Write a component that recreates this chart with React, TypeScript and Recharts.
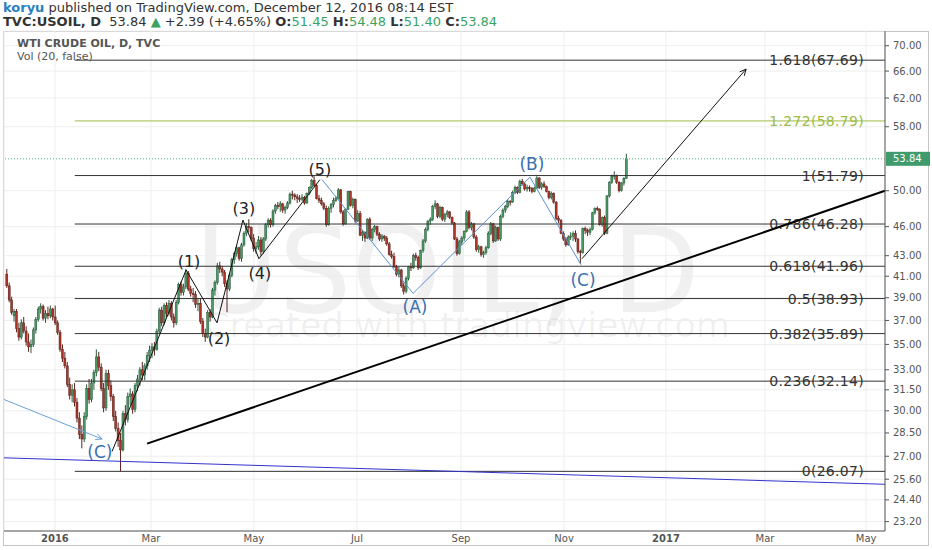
import React from 'react';
import { ComposedChart, Bar, XAxis, YAxis, CartesianGrid, ReferenceLine, ReferenceDot } from 'recharts';

// OHLC per trading day, Dec 2015 .. Dec 12 2016
const candles: [number, number, number, number][] = [
  [41.2, 41.7, 39.9, 40.1], [40.1, 40.4, 38.6, 38.8], [38.8, 39.1, 37.5, 37.7], [37.4, 38.0, 36.9, 37.8],
  [37.8, 38.0, 36.0, 36.3], [36.3, 36.8, 35.3, 35.6], [35.6, 37.1, 35.4, 36.8], [36.8, 37.3, 35.9, 36.1],
  [36.1, 36.5, 34.9, 35.2], [35.2, 35.9, 34.4, 34.8], [34.8, 35.4, 34.3, 35.0], [35.0, 36.4, 34.8, 36.2],
  [36.2, 37.3, 35.9, 37.1], [37.1, 38.2, 36.9, 38.0], [38.0, 38.5, 37.6, 38.2], [38.2, 38.4, 37.0, 37.2],
  [37.2, 37.9, 36.8, 37.6], [37.6, 38.2, 37.1, 37.4], [37.4, 38.3, 37.2, 38.0], [38.0, 38.1, 37.0, 37.3],
  [37.3, 38.3, 36.6, 36.8], [36.8, 37.0, 35.8, 36.0], [36.0, 36.2, 34.4, 34.6], [34.6, 35.0, 33.6, 33.9],
  [33.9, 34.4, 33.1, 33.3], [33.3, 33.6, 31.7, 31.9], [31.9, 32.4, 30.8, 31.1], [31.1, 31.9, 30.6, 31.5],
  [31.5, 32.0, 30.3, 30.6], [30.6, 30.9, 29.2, 29.5], [29.5, 29.9, 28.1, 28.4], [28.4, 29.0, 27.5, 28.1],
  [28.1, 29.9, 27.9, 29.6], [29.6, 31.9, 29.4, 31.6], [31.6, 32.3, 30.5, 30.8], [30.8, 32.3, 30.6, 32.0],
  [32.0, 33.0, 31.5, 32.8], [32.8, 34.6, 32.5, 34.0], [34.0, 34.4, 32.9, 33.2], [33.2, 33.5, 31.4, 31.6],
  [31.6, 32.0, 29.9, 30.2], [30.2, 33.0, 30.0, 32.7], [32.7, 33.0, 31.5, 31.8], [31.8, 32.2, 30.7, 31.0],
  [31.0, 31.2, 29.3, 29.6], [29.6, 30.0, 28.6, 28.8], [28.8, 29.2, 27.6, 28.0], [28.0, 28.5, 26.07, 27.4],
  [27.4, 30.0, 27.3, 29.8], [29.8, 30.4, 29.0, 29.4], [29.4, 31.3, 29.2, 31.0], [31.0, 31.6, 30.4, 31.2],
  [31.2, 31.4, 29.8, 30.1], [30.1, 32.0, 29.9, 31.8], [31.8, 32.6, 31.4, 32.3], [32.3, 33.2, 31.8, 33.0],
  [33.0, 33.6, 32.2, 32.6], [32.6, 33.5, 32.2, 33.3], [33.3, 34.4, 33.0, 34.1], [34.1, 34.9, 33.6, 34.5],
  [34.5, 35.1, 33.9, 34.8], [34.8, 35.2, 34.1, 34.6], [34.6, 36.3, 34.5, 36.1], [36.1, 38.1, 35.9, 37.9],
  [37.9, 38.2, 36.5, 36.8], [36.8, 38.5, 36.6, 38.3], [38.3, 38.6, 37.3, 37.6], [37.6, 38.8, 37.4, 38.5],
  [38.5, 38.7, 37.0, 37.3], [37.3, 37.6, 36.4, 36.8], [36.8, 38.8, 36.6, 38.6], [38.6, 40.4, 38.4, 40.2],
  [40.2, 40.5, 39.2, 39.5], [39.5, 40.3, 39.2, 40.0], [40.0, 41.7, 39.8, 41.3], [41.3, 41.5, 39.6, 39.8],
  [39.8, 40.1, 39.1, 39.4], [39.4, 39.9, 38.6, 39.3], [39.3, 39.6, 38.1, 38.4], [38.4, 38.9, 37.8, 38.5],
  [38.5, 38.9, 36.7, 36.9], [36.9, 37.2, 35.6, 35.9], [35.9, 36.3, 35.2, 35.6], [35.6, 37.9, 35.5, 37.7],
  [37.7, 38.0, 36.9, 37.3], [37.3, 39.9, 37.2, 39.7], [39.7, 40.6, 39.2, 40.4], [40.4, 42.3, 40.2, 42.0],
  [42.0, 42.4, 41.3, 41.7], [41.7, 42.0, 41.0, 41.4], [41.4, 41.6, 40.0, 40.3], [40.3, 40.6, 37.7, 39.8],
  [39.8, 41.3, 39.6, 41.1], [41.1, 42.8, 40.9, 42.6], [42.6, 43.4, 42.2, 43.2], [43.2, 44.0, 42.9, 43.8],
  [43.8, 43.9, 42.5, 42.7], [42.7, 44.3, 42.4, 44.1], [44.1, 45.5, 43.9, 45.3], [45.3, 46.4, 45.0, 46.0],
  [46.0, 46.8, 45.4, 45.9], [45.9, 46.0, 44.5, 44.8], [44.8, 45.2, 43.4, 43.7], [43.7, 44.4, 43.2, 43.9],
  [43.9, 45.0, 43.6, 44.6], [44.6, 44.9, 43.0, 43.4], [43.4, 44.9, 43.2, 44.7], [44.7, 46.4, 44.5, 46.2],
  [46.2, 46.9, 45.9, 46.7], [46.7, 46.9, 45.9, 46.2], [46.2, 47.9, 46.0, 47.7], [47.7, 48.5, 47.4, 48.3],
  [48.3, 48.7, 47.9, 48.2], [48.2, 48.8, 47.6, 48.5], [48.5, 48.6, 47.5, 47.8], [47.8, 48.3, 47.4, 48.1],
  [48.1, 48.8, 47.9, 48.6], [48.6, 49.8, 48.4, 49.6], [49.6, 50.0, 49.0, 49.5], [49.5, 49.7, 48.9, 49.3],
  [49.3, 49.6, 48.6, 49.1], [49.1, 49.5, 48.7, 49.0], [49.0, 49.6, 48.8, 49.2], [49.2, 49.4, 48.4, 48.6],
  [48.6, 49.8, 48.5, 49.7], [49.7, 50.5, 49.5, 50.4], [50.4, 51.4, 50.2, 51.2], [51.2, 51.7, 50.4, 50.6],
  [50.6, 50.8, 49.0, 49.1], [49.1, 49.5, 48.6, 48.9], [48.9, 49.2, 48.3, 48.5], [48.5, 48.7, 47.8, 48.0],
  [48.0, 48.3, 46.0, 46.2], [46.2, 48.2, 46.1, 48.0], [48.0, 48.6, 47.5, 48.4], [48.4, 49.2, 48.1, 48.9],
  [48.9, 49.4, 48.7, 49.1], [49.1, 50.3, 49.0, 50.1], [50.1, 50.2, 47.4, 47.6], [47.6, 47.8, 46.1, 46.3],
  [46.3, 48.0, 46.2, 47.9], [47.9, 50.0, 47.8, 49.9], [49.9, 50.0, 48.2, 48.3], [48.3, 49.2, 48.0, 49.0],
  [49.0, 49.1, 46.4, 46.6], [46.6, 47.8, 46.5, 47.4], [47.4, 47.7, 45.0, 45.1], [45.1, 45.6, 44.5, 45.4],
  [45.4, 45.5, 44.4, 44.8], [44.8, 46.9, 44.7, 46.8], [46.8, 47.0, 44.6, 44.8], [44.8, 45.9, 44.5, 45.7],
  [45.7, 46.2, 45.4, 46.0], [46.0, 46.1, 45.0, 45.2], [45.2, 45.4, 44.5, 44.7], [44.7, 45.2, 44.4, 45.0],
  [45.0, 45.1, 44.5, 44.8], [44.8, 45.0, 44.0, 44.2], [44.2, 44.4, 43.0, 43.1], [43.1, 43.5, 42.7, 42.9],
  [42.9, 43.3, 41.8, 41.9], [41.9, 42.1, 41.0, 41.2], [41.2, 41.9, 40.9, 41.6], [41.6, 41.7, 39.9, 40.1],
  [40.1, 40.4, 39.3, 39.6], [39.6, 41.0, 39.4, 40.8], [40.8, 42.0, 40.6, 41.9], [41.9, 42.3, 41.5, 41.8],
  [41.8, 43.2, 41.7, 43.0], [43.0, 43.3, 42.5, 42.8], [42.8, 43.0, 41.6, 41.8], [41.8, 43.6, 41.7, 43.5],
  [43.5, 44.7, 43.3, 44.5], [44.5, 45.9, 44.3, 45.7], [45.7, 46.7, 45.5, 46.6], [46.6, 47.0, 46.2, 46.8],
  [46.8, 48.4, 46.6, 48.2], [48.2, 48.9, 47.9, 48.5], [48.5, 48.6, 46.9, 47.1], [47.1, 48.3, 46.9, 48.1],
  [48.1, 48.2, 46.6, 46.8], [46.8, 47.5, 46.5, 47.3], [47.3, 47.8, 47.0, 47.6], [47.6, 47.7, 46.8, 47.0],
  [47.0, 47.1, 46.2, 46.4], [46.4, 46.5, 44.6, 44.7], [44.7, 44.9, 43.0, 43.2], [43.2, 44.6, 43.1, 44.4],
  [44.4, 45.0, 44.1, 44.8], [44.8, 45.6, 44.5, 45.5], [45.5, 47.8, 45.4, 47.6], [47.6, 47.8, 45.7, 45.9],
  [45.9, 46.5, 45.6, 46.3], [46.3, 46.4, 44.7, 44.9], [44.9, 45.1, 43.4, 43.6], [43.6, 44.1, 43.3, 43.9],
  [43.9, 44.0, 42.9, 43.1], [43.1, 43.5, 42.8, 43.3], [43.3, 44.0, 43.1, 43.8], [43.8, 45.5, 43.7, 45.3],
  [45.3, 46.5, 45.1, 46.3], [46.3, 46.4, 44.3, 44.5], [44.5, 46.1, 44.4, 45.9], [45.9, 46.0, 44.5, 44.7],
  [44.7, 47.3, 44.5, 47.1], [47.1, 48.0, 46.9, 47.8], [47.8, 48.4, 47.5, 48.2], [48.2, 49.0, 48.0, 48.8],
  [48.8, 48.9, 48.3, 48.7], [48.7, 50.0, 48.6, 49.8], [49.8, 50.6, 49.6, 50.4], [50.4, 50.5, 49.6, 49.8],
  [49.8, 51.3, 49.7, 51.1], [51.1, 51.4, 50.6, 50.8], [50.8, 51.0, 50.0, 50.2], [50.2, 50.7, 49.9, 50.4],
  [50.4, 50.6, 49.9, 50.3], [50.3, 50.4, 49.7, 49.9], [49.9, 50.5, 49.8, 50.3], [50.3, 51.7, 50.2, 51.5],
  [51.5, 51.6, 50.2, 50.4], [50.4, 51.0, 50.1, 50.8], [50.8, 51.1, 50.3, 50.5], [50.5, 50.6, 49.8, 49.9],
  [49.9, 50.0, 49.0, 49.2], [49.2, 49.9, 49.0, 49.7], [49.7, 49.8, 48.5, 48.7], [48.7, 48.8, 46.7, 46.9],
  [46.9, 47.2, 46.4, 46.7], [46.7, 46.8, 45.2, 45.3], [45.3, 45.5, 44.5, 44.7], [44.7, 44.9, 43.9, 44.1],
  [44.1, 45.1, 44.0, 44.9], [44.9, 45.4, 44.6, 45.0], [45.0, 45.5, 44.5, 45.3], [45.3, 45.6, 44.4, 44.7],
  [44.7, 44.8, 43.2, 43.4], [43.4, 43.6, 42.2, 43.3], [43.3, 45.9, 43.2, 45.8], [45.8, 46.0, 45.2, 45.6],
  [45.6, 45.8, 45.0, 45.4], [45.4, 45.9, 45.1, 45.7], [45.7, 47.6, 45.6, 47.5], [47.5, 48.1, 47.3, 48.0],
  [48.0, 48.2, 47.7, 47.9], [47.9, 48.0, 46.1, 46.2], [46.2, 47.1, 46.0, 47.0], [47.0, 47.2, 45.1, 45.3],
  [45.3, 49.5, 45.2, 49.4], [49.4, 51.1, 49.2, 51.0], [51.0, 51.9, 50.8, 51.7], [51.7, 52.3, 51.3, 51.8],
  [51.8, 51.9, 50.8, 51.0], [51.0, 51.1, 49.8, 50.0], [50.0, 51.0, 49.9, 50.9], [50.9, 51.6, 50.6, 51.45],
  [51.45, 54.48, 51.40, 53.84],
];

const monthTickIdx = [19.8, 59.5, 102, 144.6, 187.6, 230.2, 272.3, 313.2, 355];
const monthTickLabels = ['2016', 'Mar', 'May', 'Jul', 'Sep', 'Nov', '2017', 'Mar', 'May'];
const yearLabels = ['2016', '2017'];
const priceTicks = [70, 66, 62, 58, 50, 46, 43, 41, 39, 37, 35, 33, 31.5, 30, 28.5, 27, 25.6, 24.4, 23.2];
const xDomain: [number, number] = [-1.24, 362.8];
const yDomain: [number, number] = [22.7, 72.43];

const fibRatios = ['1.618', '1.272', '1', '0.786', '0.618', '0.5', '0.382', '0.236', '0'];
const fibPrices = [67.69, 58.79, 51.79, 46.28, 41.96, 38.93, 35.89, 32.14, 26.07];
const fibColors = ['#333', '#9dbb45', '#333', '#333', '#333', '#333', '#333', '#333', '#333'];
const fibStartIdx = 28;
const lastPrice = 53.84;

// wave count points [index, price]
const impulsePts: [number, number][] = [[43.4, 27.3], [74, 41.6], [86.8, 36.8], [97.5, 46.7], [104.1, 42.7], [129.3, 51.3]];
const abcPts: [number, number][] = [[130.2, 51.3], [167.8, 39.4], [216.1, 51.6], [237.2, 42.1]];
const projection: [number, number][] = [[237.6, 42.7], [305.4, 66.3]];
const trendLine: [number, number][] = [[57.9, 27.8], [362.8, 50.0]];
const blueLine: [number, number][] = [[-1.24, 26.9], [362.8, 25.3]];
const lightArrow: [number, number][] = [[-1.24, 30.8], [39.3, 28.1]];

const waveLabels: { i: number; p: number; t: string; blue: boolean }[] = [
  { i: 38.4, p: 27.27, t: '(C)', blue: true },
  { i: 75.2, p: 42.4, t: '(1)', blue: false },
  { i: 87.6, p: 35.5, t: '(2)', blue: false },
  { i: 97.9, p: 48.0, t: '(3)', blue: false },
  { i: 104.5, p: 41.3, t: '(4)', blue: false },
  { i: 129.3, p: 52.5, t: '(5)', blue: false },
  { i: 168.6, p: 38.2, t: '(A)', blue: true },
  { i: 216.9, p: 53.2, t: '(B)', blue: true },
  { i: 238, p: 40.6, t: '(C)', blue: true },
];

const rows = candles.map(([o, h, l, c], i) => ({ i, range: [l, h], o, h, l, c }));

const FONT = '"DejaVu Sans", Verdana, sans-serif';

const Candle = (props: any) => {
  const { x, y, width, height, payload } = props;
  if (!payload) return null;
  const { o, h, l, c } = payload;
  const top = Math.min(y, y + height);
  const hgt = Math.abs(height);
  const lh = Math.log(h);
  const ll = Math.log(l);
  const py = (v: number) => (lh === ll ? top : top + (hgt * (lh - Math.log(v))) / (lh - ll));
  const cx = x + width / 2;
  const up = c >= o;
  const bt = py(Math.max(o, c));
  const bb = py(Math.min(o, c));
  const wick = up ? '#2a5a3b' : '#5a241d';
  return (
    <g>
      <line x1={cx} x2={cx} y1={top} y2={top + hgt} stroke={wick} strokeWidth={1} />
      <rect x={cx - 1} y={bt} width={2} height={Math.max(1, bb - bt)} fill={up ? '#4a9766' : '#ad3429'} stroke={wick} strokeWidth={0.5} />
    </g>
  );
};

const XTick = (props: any) => {
  const { x, y, payload } = props;
  const idx = monthTickIdx.indexOf(payload.value);
  const label = monthTickLabels[idx] ?? '';
  const bold = yearLabels.includes(label);
  return (
    <text x={x} y={y + 11} textAnchor="middle" fontFamily={FONT} fontSize={10} fontWeight={bold ? 'bold' : 'normal'} fill="#555">
      {label}
    </text>
  );
};

const segLine = (stroke: string, width: number, arrow: boolean) => (p: any) => {
  const { x1, y1, x2, y2 } = p;
  const ang = Math.atan2(y2 - y1, x2 - x1);
  const a = 7;
  return (
    <g>
      <line x1={x1} y1={y1} x2={x2} y2={y2} stroke={stroke} strokeWidth={width} />
      {arrow && (
        <path
          d={`M${x2 - a * Math.cos(ang - 0.45)},${y2 - a * Math.sin(ang - 0.45)} L${x2},${y2} L${x2 - a * Math.cos(ang + 0.45)},${y2 - a * Math.sin(ang + 0.45)}`}
          fill="none"
          stroke={stroke}
          strokeWidth={width}
        />
      )}
    </g>
  );
};

const polySegments = (pts: [number, number][], stroke: string, w: number, key: string) =>
  pts.slice(1).map((pt, k) => (
    <ReferenceLine
      key={`${key}${k}`}
      segment={[{ x: pts[k][0], y: pts[k][1] }, { x: pt[0], y: pt[1] }]}
      ifOverflow="visible"
      shape={segLine(stroke, w, false)}
    />
  ));

export default function App() {
  return (
    <div style={{ position: 'absolute', left: 0, top: 0, width: 932, height: 550, background: '#fff', overflow: 'hidden', fontFamily: FONT }}>
      <svg width={932} height={550} style={{ position: 'absolute', left: 0, top: 0 }}>
        <rect x={0} y={0} width={932} height={550} fill="#fff" />
        <text x={195} y={312} fontFamily={FONT} fontSize={120} fill="#000" fillOpacity={0.06} textLength={505} lengthAdjust="spacingAndGlyphs">
          USOIL, D
        </text>
        <text x={205} y={337} fontFamily={FONT} fontSize={34} fill="#000" fillOpacity={0.06} textLength={525} lengthAdjust="spacingAndGlyphs">
          Created with tradingview.com
        </text>
        <rect x={3.5} y={31.5} width={925} height={514} fill="none" stroke="#c4c4c4" />
      </svg>
      <div style={{ position: 'absolute', left: 0, top: 0 }}>
        <ComposedChart width={932} height={550} data={rows} margin={{ top: 31, right: 7, bottom: 5, left: 4 }}>
          <CartesianGrid stroke="#eeeeee" strokeWidth={1} />
          <XAxis
            dataKey="i"
            type="number"
            domain={xDomain}
            allowDataOverflow
            ticks={monthTickIdx}
            interval={0}
            tick={<XTick />}
            tickLine={false}
            tickSize={0}
            tickMargin={0}
            height={14}
            axisLine={{ stroke: '#555' }}
          />
          <YAxis
            orientation="right"
            scale="log"
            domain={yDomain}
            allowDataOverflow
            ticks={priceTicks}
            interval={0}
            width={40}
            tickSize={4}
            tickMargin={4}
            tickFormatter={(v: number) => v.toFixed(2)}
            tick={{ fontSize: 10, fill: '#555', fontFamily: FONT }}
            tickLine={{ stroke: '#555' }}
            axisLine={{ stroke: '#555' }}
          />
          {fibPrices.map((p, k) => (
            <ReferenceLine
              key={`fib${k}`}
              segment={[{ x: fibStartIdx, y: p }, { x: xDomain[1], y: p }]}
              ifOverflow="visible"
              stroke={fibColors[k]}
              strokeWidth={1}
              label={(lp: any) => {
                const vb = lp.viewBox || {};
                return (
                  <text x={(vb.x ?? 0) + (vb.width ?? 0) - 21} y={vb.y ?? 0} dominantBaseline="central" textAnchor="end" fontFamily={FONT} fontSize={14} letterSpacing={0.3} fill={fibColors[k]}>
                    {`${fibRatios[k]}(${p.toFixed(2)})`}
                  </text>
                );
              }}
            />
          ))}
          <ReferenceLine
            y={lastPrice}
            ifOverflow="visible"
            stroke="#4fae7e"
            strokeDasharray="1 2"
            label={(lp: any) => {
              const vb = lp.viewBox || {};
              const rx = (vb.x ?? 0) + (vb.width ?? 0) + 1;
              return (
                <g>
                  <rect x={rx} y={(vb.y ?? 0) - 7} width={44} height={14} fill="#3f9b6c" />
                  <text x={rx + 7} y={(vb.y ?? 0) + 3.5} fontFamily={FONT} fontSize={10} fill="#fff">
                    {lastPrice.toFixed(2)}
                  </text>
                </g>
              );
            }}
          />
          <ReferenceLine
            segment={[{ x: blueLine[0][0], y: blueLine[0][1] }, { x: blueLine[1][0], y: blueLine[1][1] }]}
            ifOverflow="visible"
            shape={segLine('#3333cc', 1, false)}
          />
          <ReferenceLine
            segment={[{ x: lightArrow[0][0], y: lightArrow[0][1] }, { x: lightArrow[1][0], y: lightArrow[1][1] }]}
            ifOverflow="visible"
            shape={segLine('#6d9fd6', 1, true)}
          />
          <Bar dataKey="range" barSize={2} isAnimationActive={false} shape={<Candle />} />
          <ReferenceLine
            segment={[{ x: trendLine[0][0], y: trendLine[0][1] }, { x: trendLine[1][0], y: trendLine[1][1] }]}
            ifOverflow="visible"
            shape={segLine('#000', 2, false)}
          />
          {polySegments(impulsePts, '#111', 1, 'imp')}
          {polySegments(abcPts, '#5b8fd0', 1, 'abc')}
          <ReferenceLine
            segment={[{ x: projection[0][0], y: projection[0][1] }, { x: projection[1][0], y: projection[1][1] }]}
            ifOverflow="visible"
            shape={segLine('#111', 1, true)}
          />
          {waveLabels.map((w, k) => (
            <ReferenceDot
              key={`wl${k}`}
              x={w.i}
              y={w.p}
              r={1}
              ifOverflow="visible"
              shape={(sp: any) => (
                <text x={sp.cx} y={sp.cy} textAnchor="middle" dominantBaseline="central" fontFamily={FONT} fontSize={w.blue ? 17 : 16} fill={w.blue ? '#3a6fb0' : '#222'}>
                  {w.t}
                </text>
              )}
            />
          ))}
        </ComposedChart>
      </div>
      <div style={{ position: 'absolute', left: 3, top: 0, fontSize: 13, lineHeight: '15px', color: '#333', whiteSpace: 'nowrap' }}>
        <span style={{ color: '#2a7fc0', fontWeight: 'bold' }}>koryu</span> published on TradingView.com, December 12, 2016 08:14 EST
      </div>
      <div style={{ position: 'absolute', left: 3, top: 14, fontSize: 13, lineHeight: '15px', color: '#333', whiteSpace: 'nowrap' }}>
        <b>TVC:USOIL, D</b>&nbsp; 53.84 <span style={{ color: '#3aa35f' }}>▲</span> +2.39 (+4.65%) <b>O:</b>
        <span style={{ color: '#3aa35f' }}>51.45</span> <b>H:</b>
        <span style={{ color: '#3aa35f' }}>54.48</span> <b>L:</b>
        <span style={{ color: '#3aa35f' }}>51.40</span> <b>C:</b>
        <span style={{ color: '#3aa35f' }}>53.84</span>
      </div>
      <div style={{ position: 'absolute', left: 17, top: 37, fontSize: 11, lineHeight: '13px', color: '#555', fontWeight: 'bold', whiteSpace: 'nowrap' }}>
        WTI CRUDE OIL, D, TVC
      </div>
      <div style={{ position: 'absolute', left: 17, top: 50, fontSize: 11, lineHeight: '13px', color: '#555', whiteSpace: 'nowrap' }}>
        Vol (20, false)
      </div>
    </div>
  );
}
